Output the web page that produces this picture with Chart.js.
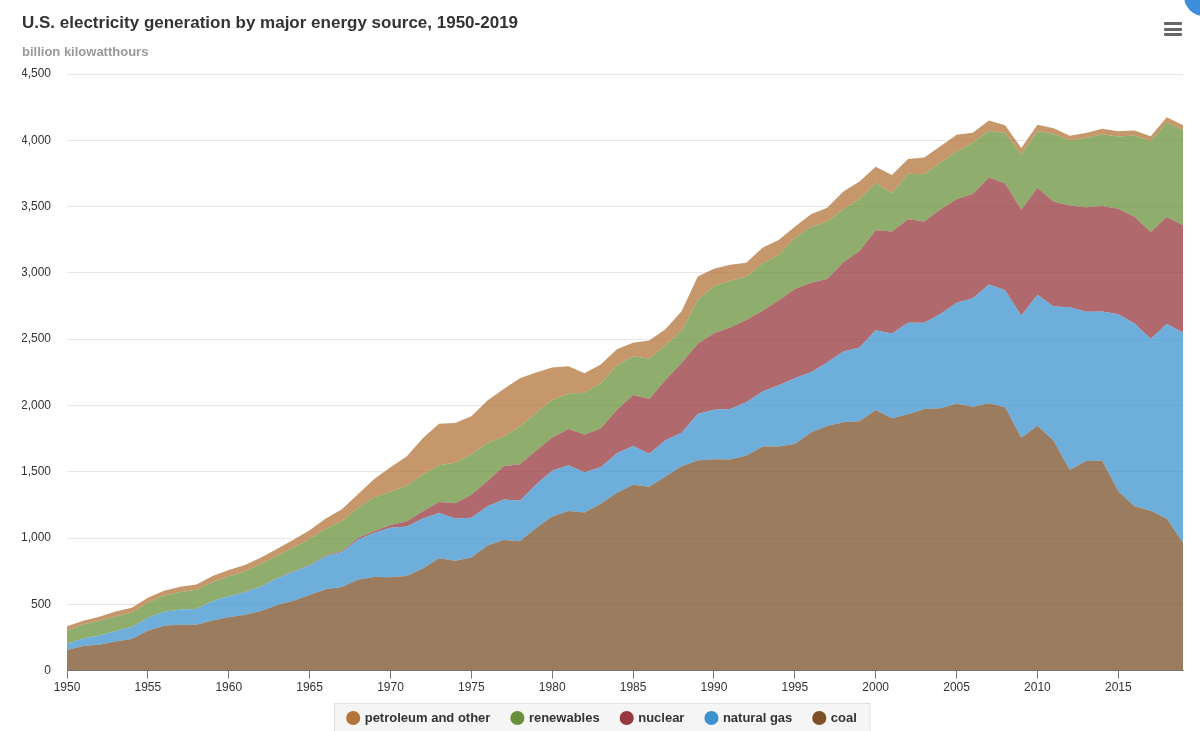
<!DOCTYPE html>
<html>
<head>
<meta charset="utf-8">
<script src="https://cdn.jsdelivr.net/npm/chart.js@4/dist/chart.umd.min.js"></script>
<style>
  html, body { margin: 0; padding: 0; background: #fff; overflow: hidden; }
  #wrap { position: relative; width: 1200px; height: 731px; }
  .menu { position: absolute; left: 1164px; top: 22px; width: 18px; }
  .menu span { display: block; height: 3px; background: #666; margin-bottom: 2.5px; border-radius: 1px; }
  .dot { position: absolute; left: 1184px; top: -24px; width: 40px; height: 40px; border-radius: 50%; background: #3d8fdb; }
</style>
</head>
<body>
<div id="wrap">
  <canvas id="chart" width="1200" height="731"></canvas>
  <div class="menu"><span></span><span></span><span></span></div>
  <div class="dot"></div>
</div>
<script>
// years on the x axis
const years = [
  1950, 1951, 1952, 1953, 1954, 1955, 1956, 1957, 1958, 1959,
  1960, 1961, 1962, 1963, 1964, 1965, 1966, 1967, 1968, 1969,
  1970, 1971, 1972, 1973, 1974, 1975, 1976, 1977, 1978, 1979,
  1980, 1981, 1982, 1983, 1984, 1985, 1986, 1987, 1988, 1989,
  1990, 1991, 1992, 1993, 1994, 1995, 1996, 1997, 1998, 1999,
  2000, 2001, 2002, 2003, 2004, 2005, 2006, 2007, 2008, 2009,
  2010, 2011, 2012, 2013, 2014, 2015, 2016, 2017, 2018, 2019
];

// billion kWh
const coal = [
  155, 185, 195, 219, 239, 301, 339, 346, 345, 378,
  403, 422, 450, 494, 526, 571, 613, 630, 685, 706,
  704, 713, 771, 848, 828, 853, 944, 985, 976, 1075,
  1162, 1203, 1192, 1259, 1342, 1402, 1386, 1464, 1541, 1584,
  1594, 1592, 1621, 1690, 1691, 1709, 1796, 1845, 1874, 1881,
  1966, 1904, 1933, 1974, 1978, 2013, 1991, 2016, 1986, 1756,
  1847, 1733, 1514, 1581, 1582, 1352, 1239, 1206, 1146, 965
];
const naturalGas = [
  45, 57, 70, 80, 90, 95, 104, 114, 120, 147,
  158, 169, 184, 202, 220, 222, 251, 265, 304, 333,
  373, 374, 376, 341, 320, 300, 295, 306, 305, 329,
  346, 346, 305, 274, 297, 292, 249, 273, 253, 352,
  373, 382, 404, 415, 461, 496, 455, 479, 532, 556,
  601, 639, 691, 650, 711, 761, 817, 897, 883, 921,
  988, 1014, 1226, 1125, 1126, 1335, 1379, 1297, 1469, 1586
];
const nuclear = [
  0, 0, 0, 0, 0, 0, 0, 0, 0.2, 0.2,
  0.5, 1.7, 2.3, 3.2, 3.3, 3.7, 5.5, 7.7, 12.5, 13.9,
  21.8, 38.1, 54.1, 83.5, 114, 173, 191, 251, 276, 255,
  251, 273, 283, 294, 328, 384, 414, 455, 527, 529,
  577, 613, 619, 610, 640, 673, 675, 629, 674, 728,
  754, 769, 780, 764, 789, 782, 787, 806, 806, 799,
  807, 790, 769, 789, 797, 797, 806, 805, 807, 809
];
const renewables = [
  101, 105, 111, 110, 108, 117, 124, 132, 145, 142,
  149, 155, 169, 167, 180, 196, 198, 225, 226, 254,
  251, 270, 277, 276, 305, 304, 288, 224, 284, 285,
  282, 267, 315, 338, 337, 294, 304, 264, 240, 330,
  357, 353, 326, 356, 342, 384, 422, 433, 398, 394,
  356, 288, 344, 356, 351, 358, 386, 353, 380, 418,
  427, 513, 492, 522, 540, 544, 613, 687, 713, 720
];
const petroleumOther = [
  34, 29, 30, 37, 37, 37, 35, 40, 40, 47,
  48, 49, 48, 52, 57, 65, 79, 89, 104, 138,
  184, 220, 274, 314, 301, 289, 320, 358, 365, 304,
  246, 206, 147, 144, 120, 100, 137, 118, 149, 178,
  130, 122, 107, 118, 113, 85, 94, 105, 136, 130,
  123, 138, 111, 126, 126, 128, 75, 78, 58, 47,
  48, 40, 34, 38, 42, 40, 37, 35, 38, 33
];

const FONT = "'Liberation Sans', Arial, Helvetica, sans-serif";

// bottom to top
const SERIES = [
  { label: 'coal', values: coal, solid: 'rgb(123, 80, 40)' },
  { label: 'natural gas', values: naturalGas, solid: 'rgb(61, 147, 206)' },
  { label: 'nuclear', values: nuclear, solid: 'rgb(150, 56, 62)' },
  { label: 'renewables', values: renewables, solid: 'rgb(105, 145, 60)' },
  { label: 'petroleum and other', values: petroleumOther, solid: 'rgb(178, 116, 56)' }
];

function fade(rgb) {
  return rgb.replace('rgb(', 'rgba(').replace(')', ', 0.75)');
}

const datasets = SERIES.map((s, i) => ({
  label: s.label,
  data: s.values.map((v, j) => ({ x: years[j], y: v })),
  backgroundColor: fade(s.solid),
  borderWidth: 0,
  pointRadius: 0,
  pointHoverRadius: 0,
  tension: 0,
  fill: i === 0 ? 'origin' : '-1'
}));

// legend: nudge it up a little and put a grey box behind the items
const legendBox = {
  id: 'legendBox',
  afterLayout(chart) {
    const lg = chart.legend;
    if (!lg) return;
    lg.top -= 7.5;
    lg.height += 7.5;
  },
  beforeDraw(chart) {
    const boxes = chart.legend && chart.legend.legendHitBoxes;
    if (!boxes || !boxes.length) return;
    const left = Math.min(...boxes.map(b => b.left)) - 14;
    const right = Math.max(...boxes.map(b => b.left + b.width)) + 13;
    const top = Math.round(boxes[0].top - 8.5);
    const ctx = chart.ctx;
    ctx.save();
    ctx.fillStyle = '#f5f5f5';
    ctx.strokeStyle = '#e0e0e0';
    ctx.lineWidth = 1;
    ctx.fillRect(left, top, right - left, 40);
    ctx.strokeRect(Math.round(left) + 0.5, top + 0.5, right - left, 40);
    ctx.restore();
  }
};

new Chart(document.getElementById('chart'), {
  type: 'line',
  data: { datasets },
  plugins: [legendBox],
  options: {
    responsive: false,
    animation: false,
    layout: { padding: { left: 22, right: 17, top: 13, bottom: 0 } },
    interaction: { mode: 'index', intersect: false },
    plugins: {
      title: {
        display: true,
        text: 'U.S. electricity generation by major energy source, 1950-2019',
        align: 'start',
        color: '#333333',
        font: { family: FONT, size: 17, weight: 'bold' },
        padding: { top: 0, bottom: 7 }
      },
      subtitle: {
        display: true,
        text: 'billion kilowatthours',
        align: 'start',
        color: '#999999',
        font: { family: FONT, size: 13, weight: 'bold' },
        padding: { top: 4, bottom: 14 }
      },
      legend: {
        position: 'bottom',
        reverse: true,
        maxHeight: 34,
        labels: {
          usePointStyle: true,
          pointStyle: 'circle',
          boxWidth: 10,
          boxHeight: 10,
          padding: 22,
          color: '#333333',
          font: { family: FONT, size: 13, weight: 'bold' },
          generateLabels(chart) {
            const items = Chart.defaults.plugins.legend.labels.generateLabels(chart);
            items.forEach(it => {
              it.fillStyle = SERIES[it.datasetIndex].solid;
              it.strokeStyle = SERIES[it.datasetIndex].solid;
              it.lineWidth = 0;
            });
            return items;
          }
        }
      },
      tooltip: { enabled: false }
    },
    scales: {
      x: {
        type: 'linear',
        min: 1950,
        max: 2019,
        grid: { drawOnChartArea: false, drawTicks: true, tickLength: 8, color: '#777777' },
        border: { display: true, color: '#777777' },
        ticks: {
          stepSize: 5,
          includeBounds: false,
          padding: 2,
          color: '#333333',
          font: { family: FONT, size: 12 },
          callback: v => String(v)
        }
      },
      y: {
        stacked: true,
        min: 0,
        max: 4500,
        afterFit(scale) { scale.width = 45; },
        grid: { color: '#e6e6e6', drawTicks: false },
        border: { display: false },
        ticks: {
          stepSize: 500,
          padding: 16,
          color: '#333333',
          font: { family: FONT, size: 12 },
          callback: v => v.toLocaleString('en-US')
        }
      }
    }
  }
});
</script>
</body>
</html>
